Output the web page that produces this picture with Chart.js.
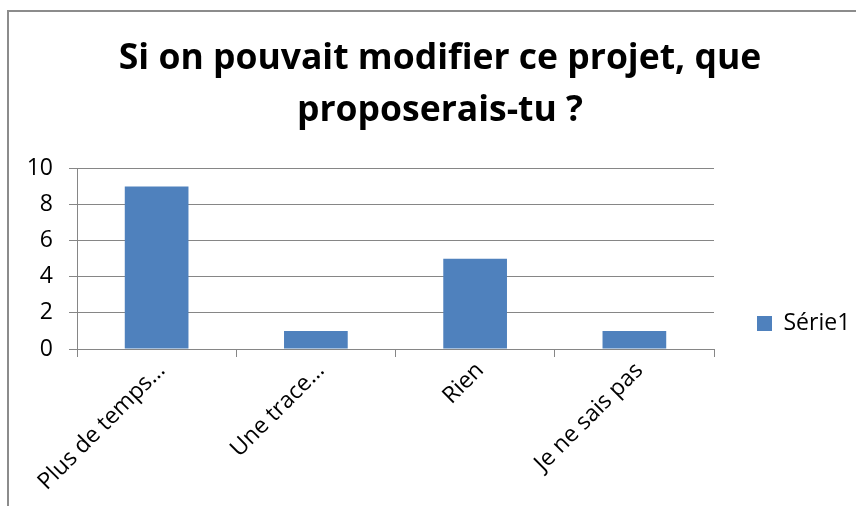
<!DOCTYPE html>
<html>
<head>
<meta charset="utf-8">
<script src="https://cdn.jsdelivr.net/npm/chart.js@4.4.1/dist/chart.umd.min.js"></script>
<style>
	html, body { margin: 0; padding: 0; background: #fff; }
	.chartWrap { position: relative; width: 856px; height: 506px; overflow: hidden; }
	.chartFrame { position: absolute; left: 7px; top: 10px; width: 900px; height: 600px; border-left: 2px solid #8c8c8c; border-top: 2px solid #8c8c8c; }
	#myChart { position: absolute; left: 0; top: 0; }
</style>
</head>
<body>
<div class="chartWrap">
	<div class="chartFrame"></div>
	<canvas id="myChart" width="856" height="506"></canvas>
</div>
<script>
var categories = ['Plus de temps…', 'Une trace…', 'Rien', 'Je ne sais pas'];
var serieName = 'Série1';
var serieValues = [9, 1, 5, 1];
var yTicks = [0, 2, 4, 6, 8, 10];

var fontName = '"Open Sans", "Noto Sans", sans-serif';
var gridColor = '#868686';

// legend placed like the excel one (fixed width, item moved down), title a bit to the right
var legendPlace = {
	id: 'legendPlace',
	beforeLayout: function(chart) {
		var lg = chart.legend;
		if (lg && !lg._fixedFit) {
			var oldFit = lg.fit;
			lg.fit = function() {
				oldFit.call(this);
				this.width = 142;
			};
			lg._fixedFit = true;
		}
	},
	afterLayout: function(chart) {
		var lg = chart.legend;
		var h = lg.height;
		lg.left = 747;
		lg.right = lg.left + lg.width;
		lg.top = 302;
		lg.bottom = lg.top + h;

		var tb = chart.titleBlock;
		tb.left += 12;
		tb.right += 12;
	}
};

var chartSet = new Chart(document.getElementById('myChart'), {
	type: 'bar',
	data: {
		labels: categories,
		datasets: [{
			label: serieName,
			data: serieValues,
			backgroundColor: '#4f81bd',
			borderWidth: 0,
			barPercentage: 0.4,
			categoryPercentage: 1
		}]
	},
	plugins: [legendPlace],
	options: {
		responsive: false,
		animation: false,
		layout: { padding: 0 },
		plugins: {
			title: {
				display: true,
				text: ['Si on pouvait modifier ce projet, que', 'proposerais-tu ?'],
				color: '#000',
				font: { family: fontName, size: 35.5, weight: 'bold', lineHeight: 1.47 },
				padding: { top: 33, bottom: 31 }
			},
			legend: {
				position: 'right',
				align: 'start',
				labels: {
					color: '#000',
					font: { family: fontName, size: 23 },
					boxWidth: 15,
					boxHeight: 15,
					padding: 10
				}
			},
			tooltip: { enabled: false }
		},
		scales: {
			x: {
				grid: { display: true, drawOnChartArea: false, drawTicks: true, tickLength: 8, color: gridColor, offset: true },
				border: { display: true, color: gridColor, width: 1 },
				ticks: {
					color: '#000',
					font: { family: fontName, size: 23 },
					minRotation: 45,
					maxRotation: 45,
					autoSkip: false,
					labelOffset: 5,
					padding: 0
				},
				afterFit: function(scale) { scale.height = 157; }
			},
			y: {
				min: 0,
				max: 10,
				afterBuildTicks: function(scale) {
					scale.ticks = yTicks.map(function(v) { return { value: v }; });
				},
				grid: { color: gridColor, tickLength: 8, drawTicks: true },
				border: { display: true, color: gridColor, width: 1 },
				ticks: {
					color: '#000',
					font: { family: fontName, size: 23 },
					padding: 16
				},
				afterFit: function(scale) { scale.width = 77; }
			}
		}
	}
});
</script>
</body>
</html>
